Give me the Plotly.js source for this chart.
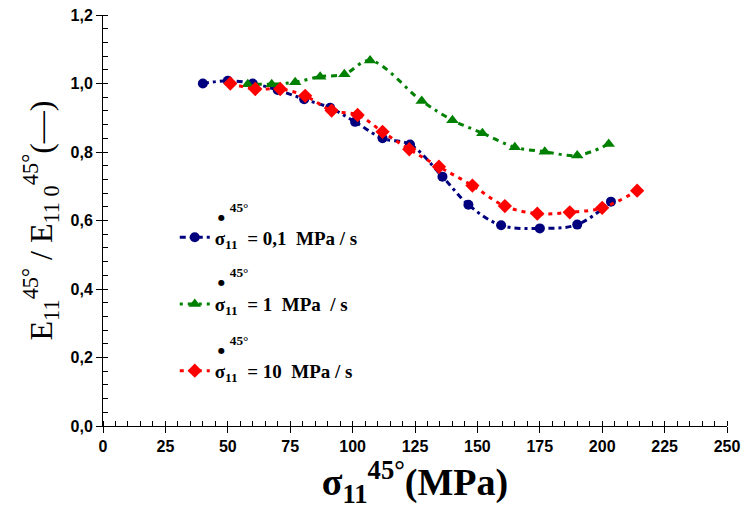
<!DOCTYPE html>
<html><head><meta charset="utf-8">
<script src="https://cdn.plot.ly/plotly-3.0.1.min.js"></script>
<style>body{margin:0;background:#fff}#c{width:742px;height:520px}</style>
</head><body><div id="c"></div>
<script>
const blueX = [40, 50, 60, 70, 80.6, 91, 101, 112, 123, 136, 146.4, 159.5, 175, 190, 203.5];
const blueY = [1.0, 1.008, 1.0, 0.981, 0.954, 0.929, 0.888, 0.84, 0.822, 0.728, 0.646, 0.586, 0.577, 0.588, 0.655];
const greenX = [58, 67.6, 77, 87, 96.7, 107, 127.7, 140, 152, 165, 177, 190, 202.6];
const greenY = [0.998, 0.998, 1.004, 1.02, 1.027, 1.067, 0.949, 0.893, 0.855, 0.814, 0.801, 0.79, 0.823];
const redX = [51, 61, 71, 81, 91.6, 102, 112, 122.7, 134.6, 148, 161, 174, 187, 200, 214];
const redY = [1.0, 0.984, 0.984, 0.964, 0.921, 0.908, 0.859, 0.808, 0.757, 0.702, 0.642, 0.62, 0.624, 0.637, 0.687];
const legendNames = ["σ<sub>11</sub>  = 0,1  MPa / s", "σ<sub>11</sub>  = 1  MPa  / s", "σ<sub>11</sub>  = 10  MPa / s"];

const traces = [
  {x: blueX, y: blueY, name: legendNames[0], legendgroup: 'a', mode: 'lines+markers',
   line: {color: '#00007f', width: 3, dash: '6px,4px,3px,4px', shape: 'spline'},
   marker: {symbol: 'circle', size: 10, color: '#00007f'}},
  {x: greenX, y: greenY, name: legendNames[1], legendgroup: 'b', mode: 'lines+markers',
   line: {color: '#008000', width: 3, dash: '3px,5px,6px,5px', shape: 'spline'},
   marker: {symbol: 'triangle-up', size: 11, color: '#008000'}},
  {x: redX, y: redY, name: legendNames[2], legendgroup: 'c', mode: 'lines+markers',
   line: {color: '#ff0000', width: 3, dash: '4px,5px', shape: 'spline'},
   marker: {symbol: 'diamond', size: 11, color: '#ff0000'}}
];

const dotAnn = (yp) => ({xref: 'paper', yref: 'paper', x: 0.181, y: yp, xanchor: 'left', yanchor: 'middle',
  text: '<span style="font-family:DejaVu Sans;font-size:8px">●</span> <sup>45°</sup>', showarrow: false,
  font: {family: 'Liberation Serif', size: 19, color: '#000', weight: 'bold'}});

const layout = {
  width: 742, height: 520,
  margin: {l: 103, r: 15, t: 15, b: 94},
  paper_bgcolor: '#fff', plot_bgcolor: '#fff',
  separators: ',.',
  showlegend: true,
  legend: {x: 0.115, y: 0.505, xanchor: 'left', yanchor: 'top', tracegroupgap: 39,
    font: {family: 'Liberation Serif', size: 19, color: '#000', weight: 'bold'},
    bgcolor: 'rgba(0,0,0,0)', itemwidth: 30},
  xaxis: {range: [0, 250], dtick: 25, tick0: 0, showgrid: false, zeroline: false,
    showline: true, linecolor: '#000', linewidth: 1, ticks: 'outside', ticklen: 6, tickcolor: '#000',
    minor: {dtick: 5, ticks: 'inside', ticklen: 5, tickcolor: '#000', showgrid: false},
    tickfont: {family: 'Liberation Sans', size: 16, color: '#000', weight: 'bold'},
    title: {text: 'σ<sub>11</sub><sup>45°</sup>(MPa)', standoff: 12,
      font: {family: 'Liberation Serif', size: 38, color: '#000', weight: 'bold'}}},
  yaxis: {range: [0, 1.2], dtick: 0.2, tick0: 0, tickformat: '.1f', showgrid: false, zeroline: false,
    showline: true, linecolor: '#000', linewidth: 1, ticks: 'outside', ticklen: 6, tickcolor: '#000',
    minor: {dtick: 0.04, ticks: 'inside', ticklen: 5, tickcolor: '#000', showgrid: false},
    tickfont: {family: 'Liberation Sans', size: 16, color: '#000', weight: 'bold'},
    title: {text: 'E<sub>11</sub><sup>45°</sup> / E<sub>11 0</sub><sup>45°</sup>(—)', standoff: 8,
      font: {family: 'Liberation Serif', size: 32, color: '#000'}}},
  annotations: [dotAnn(0.52), dotAnn(0.362), dotAnn(0.197)]
};
Plotly.newPlot('c', traces, layout, {displayModeBar: false, staticPlot: true});
</script></body></html>
